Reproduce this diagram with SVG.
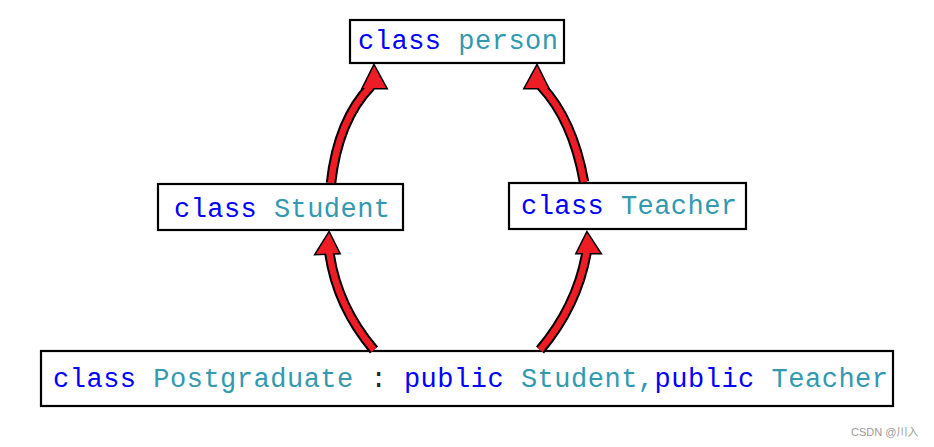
<svg xmlns="http://www.w3.org/2000/svg" width="934" height="447" viewBox="0 0 934 447">
<style>
.box{fill:#fff;stroke:#000;stroke-width:2.2}
.lbl{font-family:"Liberation Mono","DejaVu Sans Mono",monospace;font-size:27px;white-space:pre}
.kw{fill:#0000ff}
.nm{fill:#3399b0}
.pn{fill:#222}
.sk{fill:none;stroke:#000;stroke-width:10.5;stroke-linecap:butt}
.sr{fill:none;stroke:#ee1c24;stroke-width:6.5;stroke-linecap:butt}
.hk{fill:#000;stroke:#000;stroke-width:3;stroke-linejoin:miter}
.hr{fill:#ee1c24;stroke:none}
</style>
<rect width="934" height="447" fill="#fff"/>
<g id="person"><rect class="box" x="350" y="20" width="214" height="43"/><text class="lbl" x="358" y="49" textLength="200" lengthAdjust="spacing"><tspan class="kw">class </tspan><tspan class="nm">person</tspan></text></g>
<g id="student"><rect class="box" x="158" y="184" width="245" height="46"/><text class="lbl" x="174" y="217" textLength="216" lengthAdjust="spacing"><tspan class="kw">class </tspan><tspan class="nm">Student</tspan></text></g>
<g id="teacher"><rect class="box" x="509" y="183" width="237" height="46"/><text class="lbl" x="521" y="214" textLength="216" lengthAdjust="spacing"><tspan class="kw">class </tspan><tspan class="nm">Teacher</tspan></text></g>
<g id="postgraduate"><rect class="box" x="41" y="351" width="852" height="55"/><text class="lbl" x="53" y="387" textLength="835" lengthAdjust="spacing"><tspan class="kw">class </tspan><tspan class="nm">Postgraduate</tspan><tspan class="pn"> : </tspan><tspan class="kw">public </tspan><tspan class="nm">Student,</tspan><tspan class="kw">public </tspan><tspan class="nm">Teacher</tspan></text></g>
<g id="connectors">
<path class="sk" d="M331,183 Q338,120 371,86"/>
<path class="sk" d="M584,182 Q573,120 541,86"/>
<path class="sk" d="M374,350 Q336,305 329,250"/>
<path class="sk" d="M540,350 Q578,305 587,250"/>
<polygon class="hk" points="374,66 386,88 363,88"/>
<polygon class="hk" points="537,66 548,88 525,88"/>
<polygon class="hk" points="329,233 339,253 316,254"/>
<polygon class="hk" points="587,233 600,253 577,253"/>
<path class="sr" d="M331,183 Q338,120 371,86"/>
<path class="sr" d="M584,182 Q573,120 541,86"/>
<path class="sr" d="M374,350 Q336,305 329,250"/>
<path class="sr" d="M540,350 Q578,305 587,250"/>
<polygon class="hr" points="374,66 386,88 363,88"/>
<polygon class="hr" points="537,66 548,88 525,88"/>
<polygon class="hr" points="329,233 339,253 316,254"/>
<polygon class="hr" points="587,233 600,253 577,253"/>
</g>
<text x="851" y="436" style="font-family:'Liberation Sans','Noto Sans CJK SC',sans-serif;font-size:11px;fill:#999">CSDN @川入</text>
</svg>
